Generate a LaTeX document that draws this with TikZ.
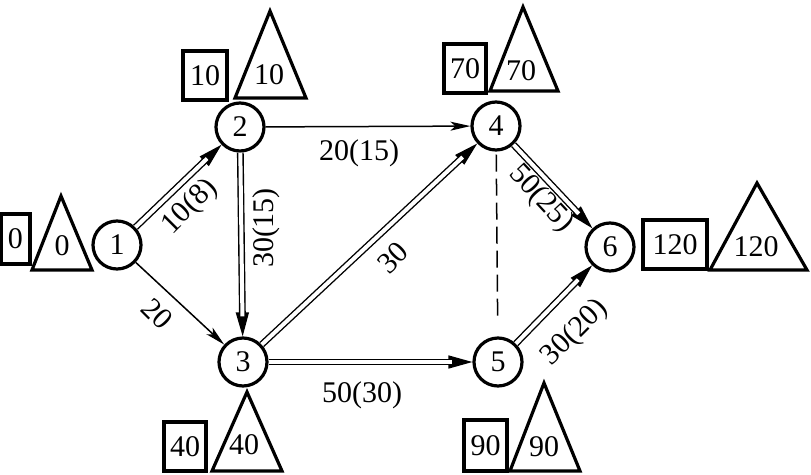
\documentclass[tikz,border=0pt]{standalone}
\usepackage{fontspec}
\setmainfont{Liberation Serif}
\usetikzlibrary{arrows.meta}
\tikzset{
  every node/.style={font=\fontsize{30}{32}\selectfont},
  vtx/.style={circle, draw, line width=3.2pt, minimum size=48pt, inner sep=0pt},
  boxn/.style={draw, line width=3.2pt, inner sep=0pt},
  tri/.style={line width=3.2pt, line join=miter},
  plain/.style={line width=1.5pt, -{Stealth[length=20pt,width=9pt,inset=5pt]}},
  arr/.style={line width=1.4pt, -{Triangle[length=24pt,width=13pt]}},
  dbl/.style={double, double distance=4pt, line width=1.4pt, shorten >=20pt},
  dsh/.style={line width=1.5pt, dash pattern=on 17pt off 7pt},
  lbl/.style={inner sep=0pt}
}
\begin{document}
\begin{tikzpicture}[x=1pt,y=-1pt]
\useasboundingbox (0,0) rectangle (811,474);
% vertices
\node[vtx] (1) at (117,245) {1};
\node[vtx] (2) at (240,127) {2};
\node[vtx] (3) at (243,362) {3};
\node[vtx] (4) at (496,126) {4};
\node[vtx] (5) at (498,362) {5};
\node[vtx] (6) at (610,247) {6};
% edges
\draw[plain] (1) -- (3);
\draw[plain] (2) -- (4);
\foreach \a/\b in {1/2,2/3,3/4,3/5,4/6,5/6}{
  \draw[arr] (\a) -- (\b);
  \draw[dbl] (\a) -- (\b);
}
\draw[dsh, shorten <=3pt, shorten >=20pt] (4) -- (5);
% edge labels
\node[lbl, rotate=45] (l12) at (190,207) {10(8)};
\node[lbl, rotate=-45] (l13) at (157,314) {20};
\node[lbl] (l24) at (359,153) {20(15)};
\node[lbl, rotate=90] (l23) at (266,228) {30(15)};
\node[lbl, rotate=45] (l34) at (393,258) {30};
\node[lbl] (l35) at (362,395) {50(30)};
\node[lbl, rotate=-47] (l46) at (541,199) {50(25)};
\node[lbl, rotate=45] (l56) at (575,333) {30(20)};
% boxes (earliest times)
\node[boxn, minimum width=29pt, minimum height=50pt] (b1) at (15.5,239) {0};
\node[boxn, minimum width=44pt, minimum height=49pt] (b2) at (205,75.5) {10};
\node[boxn, minimum width=42pt, minimum height=49pt] (b4) at (465,68.5) {70};
\node[boxn, minimum width=64pt, minimum height=49pt] (b6) at (675,244.5) {120};
\node[boxn, minimum width=42pt, minimum height=49pt] (b3) at (185,446.5) {40};
\node[boxn, minimum width=43pt, minimum height=51pt] (b5) at (485.5,445.5) {90};
% triangles (latest times)
\draw[tri] (61,196) -- (92,270) -- (32,270) -- cycle;
\node[lbl] (t1) at (62,246) {0};
\draw[tri] (270,11) -- (306,98) -- (235,98) -- cycle;
\node[lbl] (t2) at (269,75) {10};
\draw[tri] (523,7) -- (558,91) -- (490,91) -- cycle;
\node[lbl] (t4) at (521,71) {70};
\draw[tri] (757,183) -- (807,270) -- (710,270) -- cycle;
\node[lbl] (t6) at (756,247) {120};
\draw[tri] (247,392) -- (282,471) -- (212,471) -- cycle;
\node[lbl] (t3) at (244,445) {40};
\draw[tri] (544,383) -- (580,471) -- (510,471) -- cycle;
\node[lbl] (t5) at (544,447) {90};
\end{tikzpicture}
\end{document}
